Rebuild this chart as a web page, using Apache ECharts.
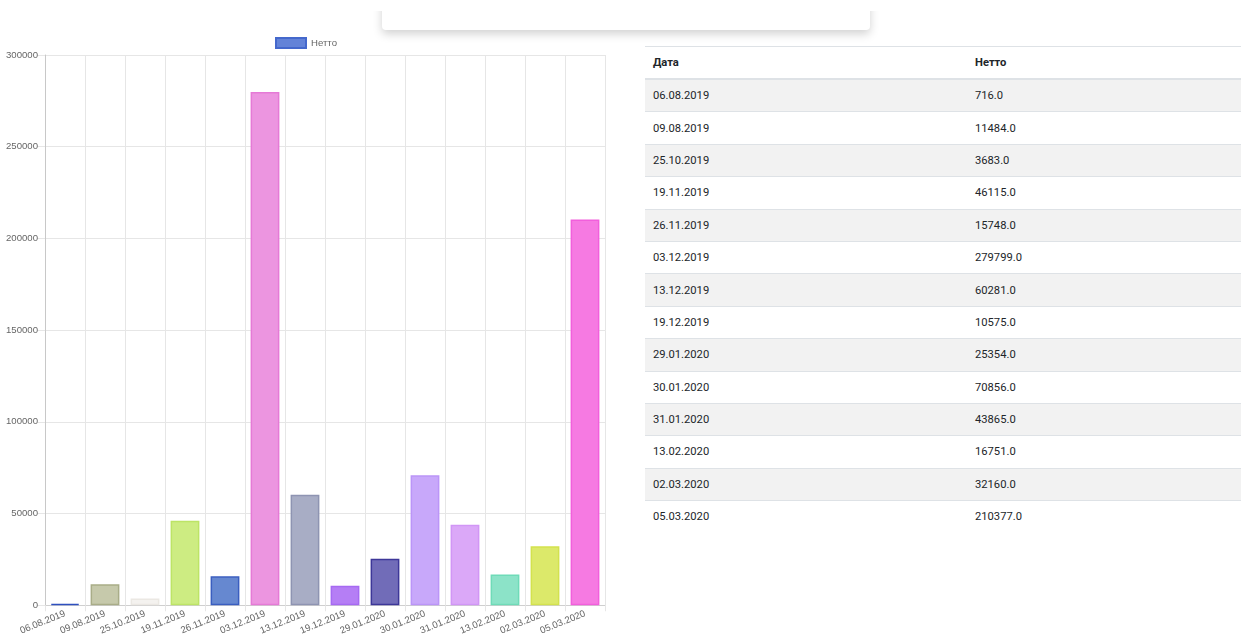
<!DOCTYPE html>
<html>
<head>
<meta charset="utf-8">
<script src="https://cdn.jsdelivr.net/npm/echarts@6/dist/echarts.min.js"></script>
<style>
  html, body { margin: 0; padding: 0; background: #fff; width: 1241px; height: 637px; overflow: hidden; }
  #mainChart { position: absolute; left: 0; top: 0; width: 615px; height: 637px; }
  .card { position: absolute; left: 382px; top: -10px; width: 488px; height: 40px; background: #fff;
          border-radius: 4px; box-shadow: 0 4px 10px rgba(0,0,0,0.18); z-index: 2; }
  .cover { position: absolute; left: 0; top: 0; width: 1241px; height: 11px; background: #fff; z-index: 3; }
  table { position: absolute; left: 645px; top: 46px; width: 596px; border-collapse: collapse;
          font-family: Roboto, "Noto Sans", sans-serif; font-size: 11.2px; color: #212529; }
  th, td { text-align: left; padding: 0 0 0 8px; border-top: 1px solid #dee2e6; }
  th { height: 31px; font-weight: bold; border-bottom: 2px solid #dee2e6; }
  td { height: 31.4px; }
  tbody tr:nth-child(odd) { background: #f2f2f2; }
</style>
</head>
<body>
<div class="cover"></div>
<div class="card"></div>
<div id="mainChart"></div>
<table id="dataTable">
  <thead><tr><th style="width:314px">Дата</th><th>Нетто</th></tr></thead>
  <tbody></tbody>
</table>
<script>
// данные
const dates = ["06.08.2019", "09.08.2019", "25.10.2019", "19.11.2019", "26.11.2019", "03.12.2019", "13.12.2019",
  "19.12.2019", "29.01.2020", "30.01.2020", "31.01.2020", "13.02.2020", "02.03.2020", "05.03.2020"];
const netto = [716, 11484, 3683, 46115, 15748, 279799, 60281, 10575, 25354, 70856, 43865, 16751, 32160, 210377];
const fillColors = ["#5b7bd0", "#c6c9ab", "#f4f2ef", "#cdec82", "#6688d0", "#ec95e0", "#a8adc5",
  "#b57ef5", "#716cb8", "#c8a8fa", "#dba8f8", "#8ce3c8", "#dce96a", "#f67ae2"];
const borderColors = ["#2f50bf", "#a9ad88", "#ebe8e3", "#bde466", "#3a5ec0", "#e57ad6", "#8e94b2",
  "#a66af2", "#3d3799", "#bb95f8", "#d196f6", "#6fdbb8", "#d3e24e", "#f25fdc"];

// таблица
const tbody = document.querySelector("#dataTable tbody");
dates.forEach((d, i) => {
  const tr = document.createElement("tr");
  tr.innerHTML = "<td>" + d + "</td><td>" + netto[i].toFixed(1) + "</td>";
  tbody.appendChild(tr);
});

const font = "Liberation Sans, Helvetica, Arial, sans-serif";
const chart = echarts.init(document.getElementById("mainChart"));
chart.setOption({
  animation: false,
  legend: {
    data: ["Нетто"],
    top: 32,
    left: 270,
    itemWidth: 30,
    itemHeight: 10,
    itemGap: 5,
    icon: "rect",
    textStyle: { color: "#666", fontSize: 9.6, fontFamily: font }
  },
  grid: { left: 45, right: 10, top: 55, bottom: 31 },
  xAxis: {
    type: "category",
    data: dates,
    axisLine: { lineStyle: { color: "#cfcfcf" } },
    axisTick: { show: true, length: 6, lineStyle: { color: "#e6e6e6" } },
    splitLine: { show: true, lineStyle: { color: "#e6e6e6" } },
    axisLabel: { interval: 0, rotate: 22, margin: 8, color: "#666", fontSize: 9.6, fontFamily: font, hideOverlap: false }
  },
  yAxis: {
    type: "value",
    min: 0,
    max: 300000,
    interval: 50000,
    axisLine: { show: true, lineStyle: { color: "#c8c8c8" } },
    axisTick: { show: true, length: 8, lineStyle: { color: "#e6e6e6" } },
    splitLine: { lineStyle: { color: "#e6e6e6" } },
    axisLabel: { margin: 7, color: "#666", fontSize: 9.6, fontFamily: font, formatter: v => String(v) }
  },
  series: [{
    name: "Нетто",
    type: "bar",
    barWidth: "72%",
    itemStyle: { color: "#6383d8", borderColor: "#4468cc", borderWidth: 1 },
    data: netto.map((v, i) => ({
      value: v,
      itemStyle: { color: fillColors[i], borderColor: borderColors[i], borderWidth: 1.5 }
    }))
  }]
});
</script>
</body>
</html>
